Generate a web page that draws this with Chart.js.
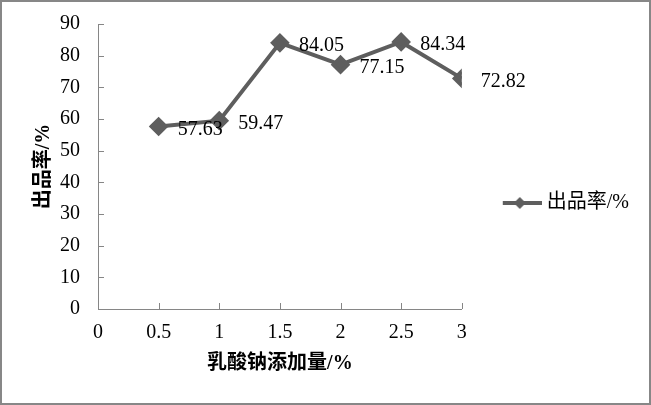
<!DOCTYPE html>
<html>
<head>
<meta charset="utf-8">
<script src="https://cdn.jsdelivr.net/npm/chart.js@4/dist/chart.umd.min.js"></script>
<style>
  html, body { margin: 0; padding: 0; background: #fff; }
  #wrap { width: 651px; height: 405px; box-sizing: border-box; border: 2px solid #878787; position: relative; }
</style>
</head>
<body>
<div id="wrap"><canvas id="yieldChart"></canvas></div>
<script>
const addAmounts = [0.5, 1, 1.5, 2, 2.5, 3];
const yieldRates = [57.63, 59.47, 84.05, 77.15, 84.34, 72.82];
const seriesName = "出品率/%";
const xTitle = "乳酸钠添加量/%";
const yTitle = "出品率/%";

const serif = '"Liberation Serif", "Times New Roman", "Noto Sans CJK SC", serif';
const lineColor = "#5e5e5e";
const axisColor = "#868686";

// legend symbol: short line with a diamond in the middle
const legendIcon = document.createElement("canvas");
legendIcon.width = 44;
legendIcon.height = 16;
(function () {
  const c = legendIcon.getContext("2d");
  c.strokeStyle = lineColor;
  c.lineWidth = 4;
  c.beginPath();
  c.moveTo(0, 8);
  c.lineTo(44, 8);
  c.stroke();
  c.fillStyle = lineColor;
  c.beginPath();
  c.moveTo(22, 2);
  c.lineTo(28, 8);
  c.lineTo(22, 14);
  c.lineTo(16, 8);
  c.closePath();
  c.fill();
})();

// tick marks point into the plot, like the original
const innerTicks = {
  id: "innerTicks",
  afterLayout(chart) {
    // legend sits a bit further right and lower than chart.js puts it
    const lg = chart.legend;
    lg.left += 41;
    lg.right += 41;
    lg.top += 3;
    lg.bottom += 3;
  },
  afterDraw(chart) {
    const ctx = chart.ctx;
    const x = chart.scales.x, y = chart.scales.y;
    ctx.save();
    ctx.strokeStyle = axisColor;
    ctx.lineWidth = 1;
    ctx.beginPath();
    x.ticks.forEach(t => {
      const px = Math.round(x.getPixelForValue(t.value)) + 0.5;
      ctx.moveTo(px, y.bottom);
      ctx.lineTo(px, y.bottom - 6);
    });
    y.ticks.forEach(t => {
      const py = Math.round(y.getPixelForValue(t.value)) + 0.5;
      ctx.moveTo(x.left, py);
      ctx.lineTo(x.left + 6, py);
    });
    ctx.stroke();
    ctx.restore();
  }
};

const valueLabels = {
  id: "valueLabels",
  afterDatasetsDraw(chart) {
    const ctx = chart.ctx;
    const meta = chart.getDatasetMeta(0);
    ctx.save();
    ctx.font = "20px " + serif;
    ctx.fillStyle = "#000";
    ctx.textBaseline = "middle";
    meta.data.forEach((pt, i) => {
      ctx.fillText(yieldRates[i].toFixed(2), pt.x + 19, pt.y + 3);
    });
    ctx.restore();
  }
};

new Chart(document.getElementById("yieldChart"), {
  type: "line",
  data: {
    datasets: [{
      label: seriesName,
      data: addAmounts.map((v, i) => ({ x: v, y: yieldRates[i] })),
      borderColor: lineColor,
      backgroundColor: lineColor,
      borderWidth: 4,
      pointStyle: "rectRot",
      pointRadius: 7,
      pointHoverRadius: 7,
      tension: 0
    }]
  },
  options: {
    responsive: true,
    maintainAspectRatio: false,
    animation: false,
    events: [],
    layout: { padding: { top: 22, left: 30, right: 51, bottom: 27 } },
    plugins: {
      tooltip: { enabled: false },
      legend: {
        position: "right",
        labels: {
          usePointStyle: true,
          pointStyle: legendIcon,
          pointStyleWidth: 34,
          color: "#000",
          padding: 0,
          font: { family: serif, size: 20 }
        }
      }
    },
    scales: {
      x: {
        type: "linear",
        min: 0,
        max: 3,
        ticks: { stepSize: 0.5, color: "#000", padding: 12, font: { family: serif, size: 20 },
          callback: v => String(v) },
        grid: { display: false, drawTicks: false },
        border: { color: axisColor, width: 1 },
        title: { display: true, text: xTitle, color: "#000", padding: { top: -5, bottom: 0 }, font: { family: serif, size: 20, weight: "bold" } }
      },
      y: {
        min: 0,
        max: 90,
        afterFit: s => { s.width = 66; s.paddingTop = 0; s.paddingBottom = 0; },
        ticks: { stepSize: 10, color: "#000", padding: 18, font: { family: serif, size: 20 } },
        grid: { display: false, drawTicks: false },
        border: { color: axisColor, width: 1 },
        title: { display: true, text: yTitle, color: "#000", padding: { top: 0, bottom: 0 }, font: { family: serif, size: 20, weight: "bold" } }
      }
    }
  },
  plugins: [innerTicks, valueLabels]
});
</script>
</body>
</html>
